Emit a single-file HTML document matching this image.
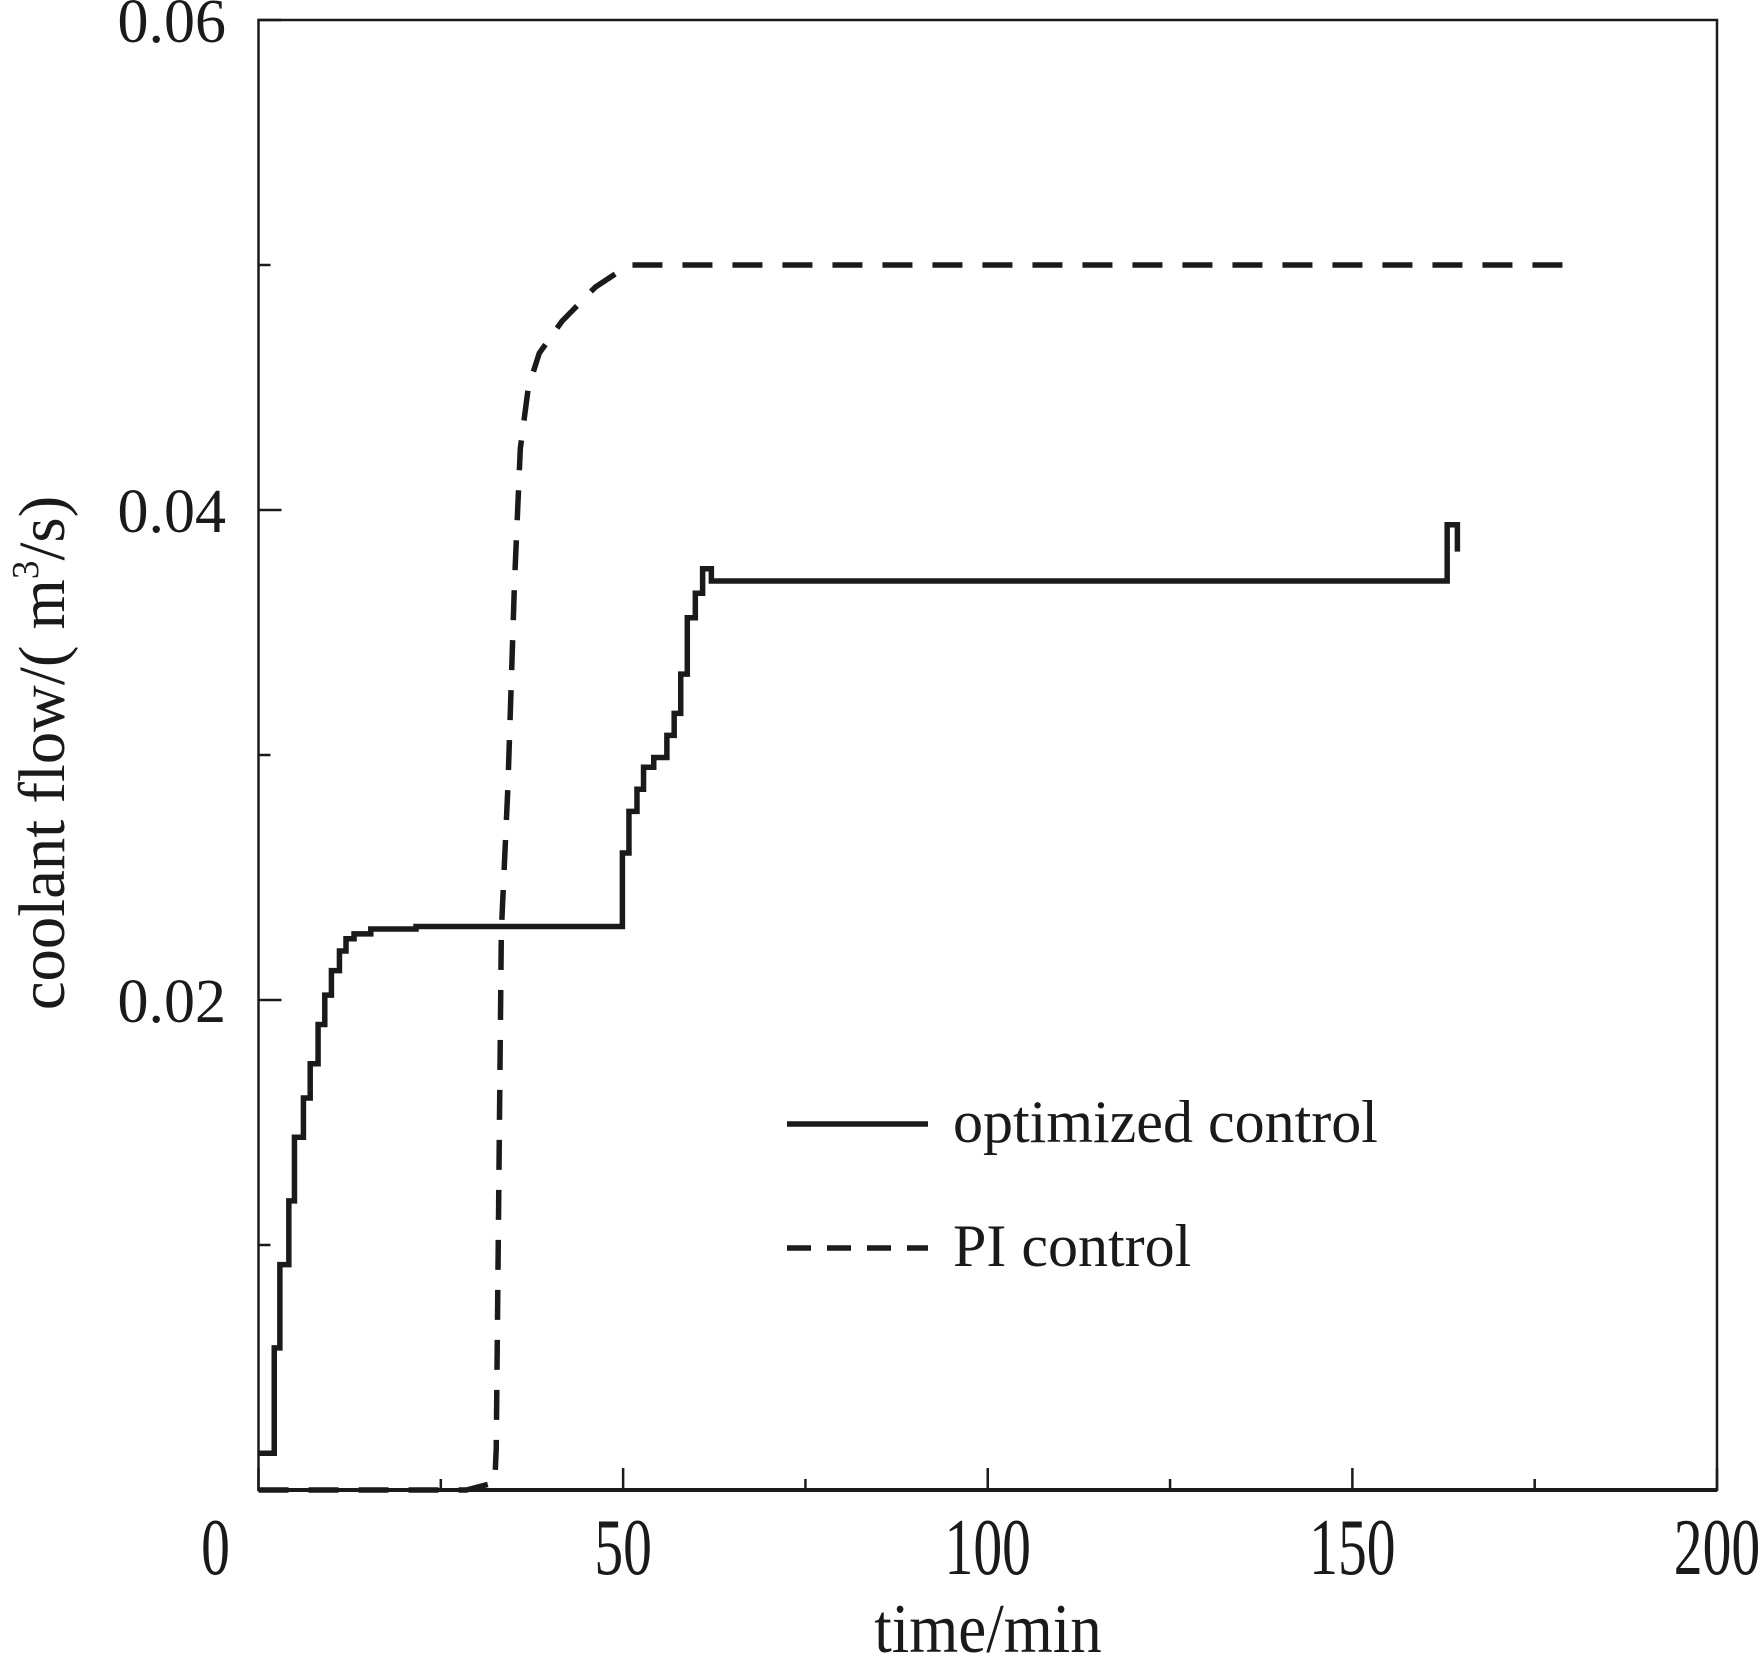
<!DOCTYPE html>
<html><head><meta charset="utf-8"><style>
html,body{margin:0;padding:0;background:#fff}
svg{display:block}
text{font-family:"Liberation Serif",serif;fill:#1a1a1a}
</style></head><body>
<svg id="chart" width="1762" height="1676" viewBox="0 0 1762 1676" xmlns="http://www.w3.org/2000/svg">
<g id="axes"></g>
<g id="series"></g>
<g id="legend">
  <line x1="787" y1="1124" x2="928" y2="1124" stroke="#1a1a1a" stroke-width="5.5"/>
  <text x="953" y="1142" font-size="60">optimized control</text>
  <line x1="787" y1="1248" x2="928" y2="1248" stroke="#1a1a1a" stroke-width="5.5" stroke-dasharray="24 16"/>
  <text x="953" y="1266" font-size="60">PI control</text>
</g>
</svg>
<script>
const xTicks = [0, 50, 100, 150, 200];
const xMinor = [25, 75, 125, 175];
const yTicks = [0.02, 0.04, 0.06];
const yMinor = [0.01, 0.03, 0.05];
const xTickLabels = ["0", "50", "100", "150", "200"];
const yTickLabels = ["0.02", "0.04", "0.06"];
const optT = [0, 2.16, 2.93, 4.16, 4.93, 6.16, 7.09, 8.17, 9.09, 10.0, 11.1, 12.0, 13.1, 15.4, 21.6, 49.9, 50.8, 51.9, 52.8, 54.2, 56.0, 57.0, 57.9, 58.8, 59.9, 60.9, 62.1, 163.0, 164.1, 164.4];
const optV = [0.0015, 0.0058, 0.0092, 0.0118, 0.0144, 0.016, 0.0174, 0.019, 0.0202, 0.0212, 0.022, 0.0225, 0.0227, 0.0229, 0.023, 0.026, 0.0277, 0.0286, 0.0295, 0.0299, 0.0308, 0.0317, 0.0333, 0.0356, 0.0366, 0.0376, 0.0371, 0.0394, 0.0394, 0.0383];
const piT = [0, 28.5, 32.4, 32.6, 33.3, 34.2, 35.1, 35.9, 37.0, 38.5, 41.6, 46.2, 50.8, 179.5];
const piV = [0, 0, 0.0003, 0.0017, 0.0228, 0.0287, 0.037, 0.0425, 0.045, 0.0464, 0.0477, 0.0491, 0.05, 0.05];

const L = 258.5, R = 1717, T = 20, B = 1490;
const X = t => L + (t / 200) * (R - L);
const Y = v => B - (v / 0.06) * (B - T);
const NS = "http://www.w3.org/2000/svg";
function mk(tag, attrs, parent) {
  const e = document.createElementNS(NS, tag);
  for (const k in attrs) e.setAttribute(k, attrs[k]);
  parent.appendChild(e);
  return e;
}
const ax = document.getElementById('axes');
const frame = mk('rect', {x: L, y: T, width: R - L, height: B - T, fill: 'none', stroke: '#1a1a1a', 'stroke-width': 2.5}, ax);


const bl = mk('line', {x1: L, y1: B, x2: R, y2: B, stroke: '#1a1a1a', 'stroke-width': 4}, ax);


xTicks.forEach((t, i) => {
  const tk = mk('line', {x1: X(t), y1: B, x2: X(t), y2: B - 22, stroke: '#1a1a1a', 'stroke-width': 2.5}, ax);
  
  
  const lx = i === 0 ? X(t) - 43 : X(t);
  const lb = mk('text', {x: 0, y: 0, 'font-size': 80, 'text-anchor': 'middle', transform: `translate(${lx},1574) scale(0.72,1)`}, ax);
  lb.textContent = xTickLabels[i];
  
  
});
xMinor.forEach(t => {
  const tk = mk('line', {x1: X(t), y1: B, x2: X(t), y2: B - 11, stroke: '#1a1a1a', 'stroke-width': 2.5}, ax);
  
  
});
yTicks.forEach((v, i) => {
  const tk = mk('line', {x1: L, y1: Y(v), x2: L + 23, y2: Y(v), stroke: '#1a1a1a', 'stroke-width': 2.5}, ax);
  
  
  const lb = mk('text', {x: 226, y: Y(v) + 22, 'font-size': 62, 'text-anchor': 'end'}, ax);
  lb.textContent = yTickLabels[i];
  
  
});
yMinor.forEach(v => {
  const tk = mk('line', {x1: L, y1: Y(v), x2: L + 12, y2: Y(v), stroke: '#1a1a1a', 'stroke-width': 2.5}, ax);
  
  
});
const xt = mk('text', {x: 0, y: 0, 'font-size': 70, 'text-anchor': 'middle', transform: 'translate(988,1652) scale(0.9,1)'}, ax);
xt.textContent = 'time/min';


const yt = mk('text', {x: 0, y: 0, 'font-size': 66, 'text-anchor': 'middle', transform: 'translate(64,753) rotate(-90) scale(0.98,1)'}, ax);
yt.innerHTML = 'coolant flow/( m<tspan font-size="38" dy="-26">3</tspan><tspan dy="26">/s)</tspan>';



const sg = document.getElementById('series');
let d = `M${X(optT[0])},${Y(optV[0])}`;
for (let i = 1; i < optT.length; i++) d += ` H${X(optT[i])} V${Y(optV[i])}`;
const op = mk('path', {d: d, fill: 'none', stroke: '#1a1a1a', 'stroke-width': 5.5}, sg);


const pd = piT.map((t, i) => (i ? 'L' : 'M') + X(t) + ',' + Y(piV[i])).join(' ');
const pp = mk('path', {d: pd, fill: 'none', stroke: '#1a1a1a', 'stroke-width': 5.5, 'stroke-dasharray': '30 20'}, sg);


</script>
</body></html>
